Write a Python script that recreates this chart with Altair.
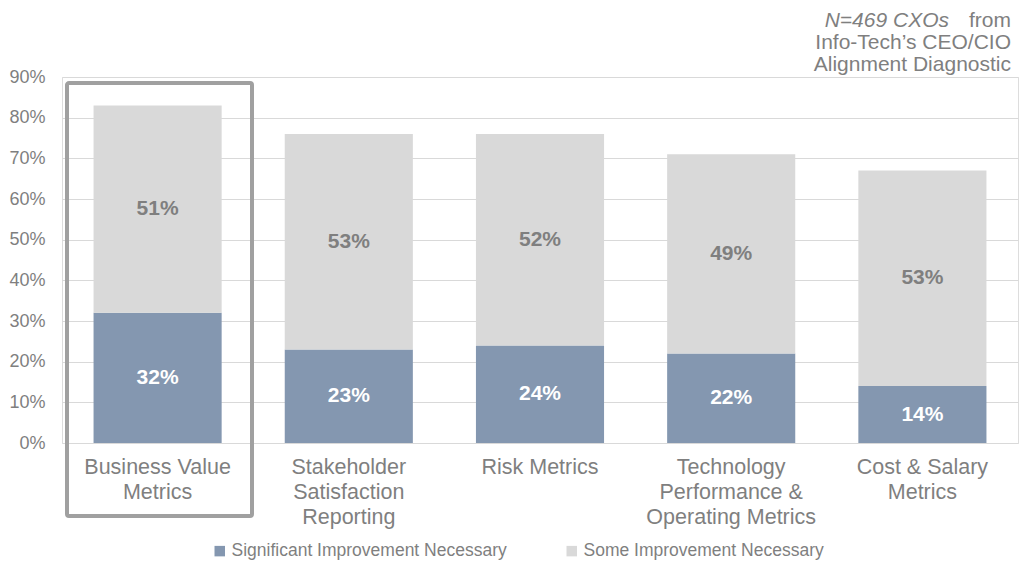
import altair as alt
import pandas as pd

categories = [
    "Business Value|Metrics",
    "Stakeholder|Satisfaction|Reporting",
    "Risk Metrics",
    "Technology|Performance &|Operating Metrics",
    "Cost & Salary|Metrics",
]
significant = [32, 23, 24, 22, 14]
some = [51, 53, 52, 49, 53]
series_names = ["Significant Improvement Necessary", "Some Improvement Necessary"]
y_ticks = [0, 10, 20, 30, 40, 50, 60, 70, 80, 90]
note_italic = "N=469 CXOs"
note_line1_rest = "from"
note_line2 = "Info-Tech\u2019s CEO/CIO"
note_line3 = "Alignment Diagnostic"

rows = []
for c, a, b in zip(categories, significant, some):
    rows.append(dict(cat=c, series=series_names[0], value=a, start=0, end=a))
    rows.append(dict(cat=c, series=series_names[1], value=b, start=a, end=a + b))
df = pd.DataFrame(rows)
df["mid"] = (df["start"] + df["end"]) / 2
df["label"] = df["value"].astype(str) + "%"

GRAY = "#7f7f7f"
FONT = "Liberation Sans"

x_enc = alt.X(
    "cat:N",
    sort=categories,
    scale=alt.Scale(paddingInner=0.33, paddingOuter=0.165),
    axis=alt.Axis(
        title=None, labelAngle=0, labelExpr="split(datum.label, '|')",
        labelFontSize=21.5, labelColor=GRAY, labelLineHeight=25, labelPadding=13,
        ticks=False, domain=False, labelFont=FONT, labelLimit=400, grid=False,
        labelOverlap=False,
    ),
)

base = alt.Chart(df)

bars = base.mark_bar().encode(
    x=x_enc,
    y=alt.Y(
        "start:Q",
        scale=alt.Scale(domain=[0, 90], nice=False),
        axis=alt.Axis(
            values=y_ticks, labelExpr="datum.value + '%'", title=None,
            labelFontSize=18, labelColor=GRAY, labelFont=FONT, ticks=False,
            domain=False, labelPadding=17, gridColor="#d9d9d9", gridWidth=1,
        ),
    ),
    y2="end:Q",
    color=alt.Color(
        "series:N",
        scale=alt.Scale(domain=series_names, range=["#8497b0", "#d9d9d9"]),
        legend=alt.Legend(
            orient="none", legendX=149, legendY=465, direction="horizontal",
            title=None, symbolType="square", symbolSize=110, labelFontSize=17.5,
            labelColor=GRAY, labelFont=FONT, columnPadding=56, labelLimit=500,
            symbolStrokeWidth=0, labelOffset=3,
        ),
    ),
)

txt_sig = base.transform_filter(
    alt.datum.series == series_names[0]
).mark_text(fontSize=21, fontWeight="bold", color="white", font=FONT, baseline="middle").encode(
    x=alt.X("cat:N", sort=categories), y="mid:Q", text="label:N"
)
txt_some = base.transform_filter(
    alt.datum.series == series_names[1]
).mark_text(fontSize=21, fontWeight="bold", color=GRAY, font=FONT, baseline="middle").encode(
    x=alt.X("cat:N", sort=categories), y="mid:Q", text="label:N"
)

one = alt.Chart(pd.DataFrame({"k": [categories[0]]}))
box = one.mark_rect(filled=False, stroke="#a0a0a0", strokeWidth=4, cornerRadius=2, clip=False).encode(
    x=alt.value(5), x2=alt.value(190), y=alt.value(6), y2=alt.value(439)
)

note_a = one.mark_text(fontSize=21, fontStyle="italic", color=GRAY, font=FONT, align="right", baseline="alphabetic").encode(
    x=alt.value(887), y=alt.value(-50), text=alt.value(note_italic)
)
note_b = one.mark_text(fontSize=21, color=GRAY, font=FONT, align="right", baseline="alphabetic").encode(
    x=alt.value(949), y=alt.value(-50), text=alt.value(note_line1_rest)
)
note_c = one.mark_text(fontSize=21, color=GRAY, font=FONT, align="right", baseline="alphabetic").encode(
    x=alt.value(949), y=alt.value(-28), text=alt.value(note_line2)
)
note_d = one.mark_text(fontSize=21, color=GRAY, font=FONT, align="right", baseline="alphabetic").encode(
    x=alt.value(949), y=alt.value(-6), text=alt.value(note_line3)
)

chart = alt.layer(bars, txt_sig, txt_some, box, note_a, note_b, note_c, note_d).properties(
    width=956, height=366,
    autosize=alt.AutoSizeParams(type="none"),
    padding={"left": 54, "top": 69, "right": 2, "bottom": 117},
).configure_view(stroke="#d9d9d9").configure(font=FONT)

chart.save("out.html", embed_options={"renderer": "svg", "actions": False})
